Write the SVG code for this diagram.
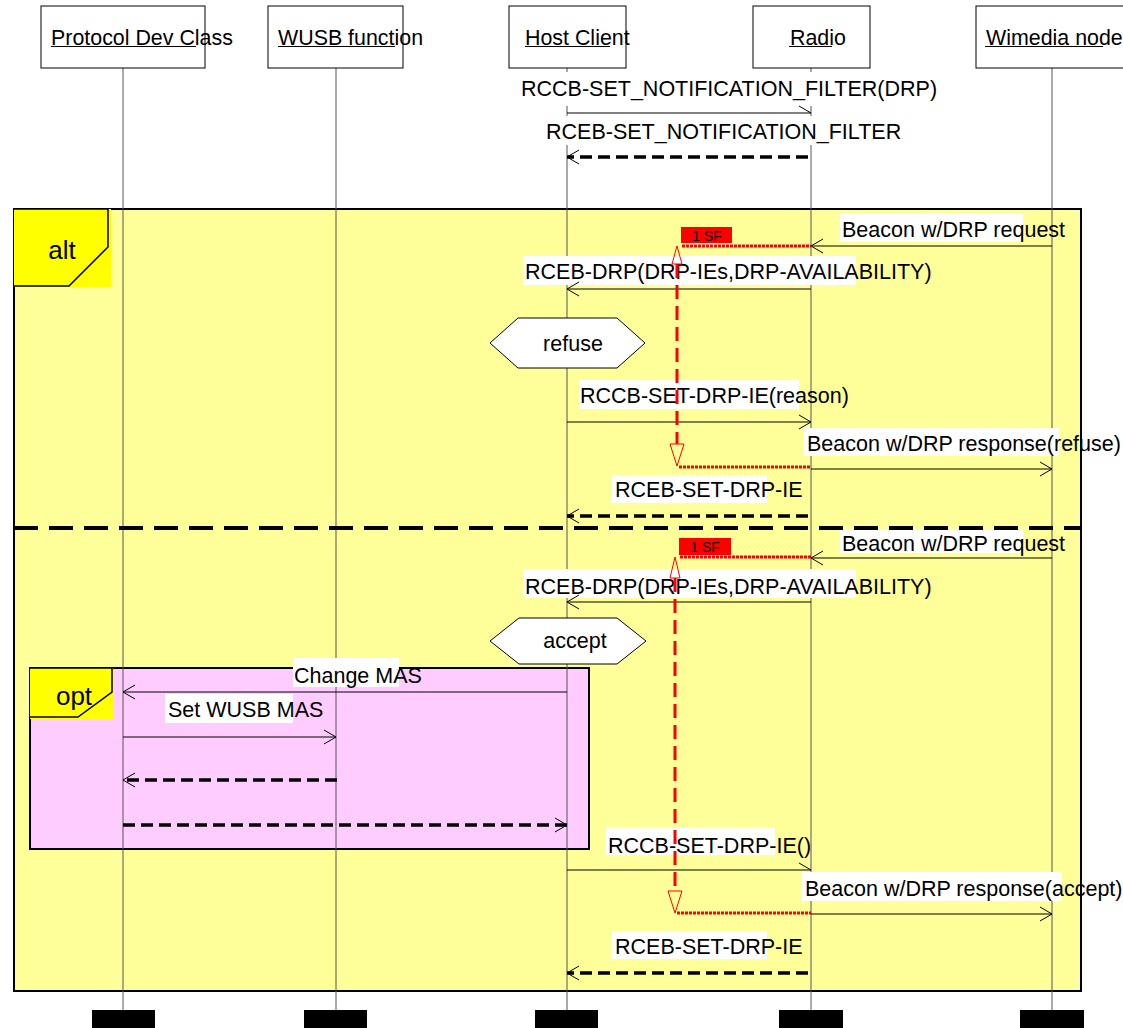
<svg xmlns="http://www.w3.org/2000/svg" width="1123" height="1028" viewBox="0 0 1123 1028">
<style>
text{font-family:"Liberation Sans",Arial,sans-serif;fill:#000}
.lbl{font-size:21.5px}
.hdr{font-size:21.4px}
.box{fill:#fff;stroke:#000;stroke-width:1}
.life{stroke:#555;stroke-width:1}
.bg{fill:#fff}
.msg{stroke:#000;stroke-width:1;fill:none}
.ret{stroke:#000;stroke-width:3.5;stroke-dasharray:12 6;fill:none}
.rdash{stroke:#f00;stroke-width:3;stroke-dasharray:14 7;fill:none}
.rdot{stroke:#f00;stroke-width:3;stroke-dasharray:3 1;fill:none}
.rtri{fill:none;stroke:#f00;stroke-width:1}
.bar{fill:#000}
.sf{font-size:14px}
</style>
<defs>
<marker id="ah" markerUnits="userSpaceOnUse" markerWidth="14" markerHeight="16" viewBox="0 0 14 16" refX="13" refY="8" orient="auto"><path d="M1,1 L13,8 L1,15" fill="none" stroke="#000" stroke-width="1"/></marker>
<marker id="ahh" markerUnits="userSpaceOnUse" markerWidth="14" markerHeight="16" viewBox="0 0 14 16" refX="13" refY="8" orient="auto"><path d="M1,1 L13,8" fill="none" stroke="#000" stroke-width="1"/></marker>
</defs>

<g id="frame-alt">
<rect x="14" y="209" width="1067" height="782" fill="#ffff99" stroke="#000" stroke-width="2"/>
<rect x="14" y="209" width="97" height="78" fill="#ffff00"/>
<path d="M14,209 L108,209 L108,247 L69,286 L14,286" fill="none" stroke="#000" stroke-width="1.5"/>
<text x="62" y="259" font-size="26" text-anchor="middle">alt</text>
</g>

<g id="frame-opt">
<rect x="30" y="668" width="559" height="181" fill="#ffccff" stroke="#000" stroke-width="2"/>
<rect x="30" y="668" width="83" height="51" fill="#ffff00"/>
<path d="M30,668 L112,668 L112,692 L78,717 L30,717" fill="none" stroke="#000" stroke-width="1.5"/>
<text x="74" y="705" font-size="26" text-anchor="middle">opt</text>
</g>

<g id="lifelines">
<line class="life" x1="123" y1="68" x2="123" y2="1010"/>
<line class="life" x1="336" y1="68" x2="336" y2="1010"/>
<line class="life" x1="567" y1="68" x2="567" y2="1010"/>
<line class="life" x1="811" y1="68" x2="811" y2="1010"/>
<line class="life" x1="1052" y1="68" x2="1052" y2="1010"/>
</g>

<g id="node-protocol">
<rect class="box" x="41" y="6" width="164" height="62"/>
<text class="hdr" x="51" y="45">Protocol Dev Class</text>
<line x1="51" y1="46.5" x2="196" y2="46.5" stroke="#000" stroke-width="1"/>
<rect class="bar" x="92" y="1010" width="63" height="20"/>
</g>
<g id="node-wusb">
<rect class="box" x="268" y="6" width="135" height="62"/>
<text class="hdr" x="278" y="45">WUSB function</text>
<line x1="278" y1="46.5" x2="395" y2="46.5" stroke="#000" stroke-width="1"/>
<rect class="bar" x="304" y="1010" width="63" height="20"/>
</g>
<g id="node-host">
<rect class="box" x="509" y="6" width="117" height="62"/>
<text class="hdr" x="525" y="45">Host Client</text>
<line x1="525" y1="46.5" x2="610" y2="46.5" stroke="#000" stroke-width="1"/>
<rect class="bar" x="535" y="1010" width="63" height="20"/>
</g>
<g id="node-radio">
<rect class="box" x="753" y="6" width="117" height="62"/>
<text class="hdr" x="790" y="45">Radio</text>
<line x1="789" y1="46.5" x2="832" y2="46.5" stroke="#000" stroke-width="1"/>
<rect class="bar" x="779" y="1010" width="64" height="20"/>
</g>
<g id="node-wimedia">
<rect class="box" x="976" y="6" width="152" height="62"/>
<text class="hdr" x="986" y="45">Wimedia node</text>
<line x1="985" y1="46.5" x2="1103" y2="46.5" stroke="#000" stroke-width="1"/>
<rect class="bar" x="1020" y="1010" width="64" height="20"/>
</g>

<g id="node-refuse">
<polygon points="490,343 518,318 617,318 645,343 617,368 518,368" fill="#fff" stroke="#000" stroke-width="1"/>
<text class="lbl" x="573" y="351" text-anchor="middle">refuse</text>
</g>
<g id="node-accept">
<polygon points="490,641 519,618 617,618 646,641 617,664 519,664" fill="#fff" stroke="#000" stroke-width="1"/>
<text class="lbl" x="575" y="648" text-anchor="middle">accept</text>
</g>

<g id="label-bgs">
<rect class="bg" x="519" y="72" width="333" height="34"/>
<rect class="bg" x="544" y="116" width="285" height="29"/>
<rect class="bg" x="840" y="213" width="183" height="29"/>
<rect class="bg" x="523" y="256" width="333" height="29"/>
<rect class="bg" x="579" y="380" width="220" height="29"/>
<rect class="bg" x="804" y="428" width="255" height="28"/>
<rect class="bg" x="612" y="475" width="155" height="28"/>
<rect class="bg" x="840" y="530" width="183" height="23"/>
<rect class="bg" x="523" y="569" width="333" height="29"/>
<rect class="bg" x="293" y="658" width="106" height="29"/>
<rect class="bg" x="165" y="694" width="128" height="29"/>
<rect class="bg" x="606" y="827" width="169" height="28"/>
<rect class="bg" x="802" y="872" width="260" height="29"/>
<rect class="bg" x="612" y="931" width="155" height="28"/>
</g>

<line x1="14" y1="528" x2="1081" y2="528" stroke="#000" stroke-width="4" stroke-dasharray="24 11"/>

<g id="labels">
<text class="lbl" x="521" y="96">RCCB-SET_NOTIFICATION_FILTER(DRP)</text>
<text class="lbl" x="546" y="139">RCEB-SET_NOTIFICATION_FILTER</text>
<text class="lbl" x="842" y="237">Beacon w/DRP request</text>
<text class="lbl" x="525" y="279">RCEB-DRP(DRP-IEs,DRP-AVAILABILITY)</text>
<text class="lbl" x="580" y="403">RCCB-SET-DRP-IE(reason)</text>
<text class="lbl" x="807" y="451">Beacon w/DRP response(refuse)</text>
<text class="lbl" x="615" y="497">RCEB-SET-DRP-IE</text>
<text class="lbl" x="842" y="551">Beacon w/DRP request</text>
<text class="lbl" x="525" y="594">RCEB-DRP(DRP-IEs,DRP-AVAILABILITY)</text>
<text class="lbl" x="294" y="683">Change MAS</text>
<text class="lbl" x="168" y="717">Set WUSB MAS</text>
<text class="lbl" x="608" y="853">RCCB-SET-DRP-IE()</text>
<text class="lbl" x="805" y="896">Beacon w/DRP response(accept)</text>
<text class="lbl" x="615" y="954">RCEB-SET-DRP-IE</text>
</g>

<g id="connectors">
<line class="msg" x1="567" y1="113" x2="811" y2="113" marker-end="url(#ahh)"/>
<line class="ret" x1="808" y1="157" x2="567" y2="157" marker-end="url(#ah)"/>
<line class="msg" x1="1052" y1="246" x2="811" y2="246" marker-end="url(#ah)"/>
<line class="msg" x1="811" y1="289" x2="567" y2="289" marker-end="url(#ah)"/>
<line class="msg" x1="567" y1="422" x2="811" y2="422" marker-end="url(#ah)"/>
<line class="msg" x1="811" y1="469" x2="1052" y2="469" marker-end="url(#ah)"/>
<line class="ret" x1="808" y1="516" x2="567" y2="516" marker-end="url(#ah)"/>
<line class="msg" x1="1052" y1="558" x2="811" y2="558" marker-end="url(#ah)"/>
<line class="msg" x1="811" y1="602" x2="567" y2="602" marker-end="url(#ah)"/>
<line class="msg" x1="567" y1="692" x2="123" y2="692" marker-end="url(#ah)"/>
<line class="msg" x1="123" y1="737" x2="336" y2="737" marker-end="url(#ah)"/>
<line class="ret" x1="337" y1="780" x2="123" y2="780" marker-end="url(#ah)"/>
<line class="ret" x1="123" y1="825" x2="567" y2="825" marker-end="url(#ah)"/>
<line class="msg" x1="567" y1="870" x2="811" y2="870" marker-end="url(#ahh)"/>
<line class="msg" x1="811" y1="914" x2="1052" y2="914" marker-end="url(#ah)"/>
<line class="ret" x1="808" y1="973" x2="567" y2="973" marker-end="url(#ah)"/>
</g>

<g id="timing-1">
<rect x="681" y="227" width="51" height="16" fill="#f00"/>
<text class="sf" x="707" y="241" text-anchor="middle">1 SF</text>
<line class="rdot" x1="682" y1="246" x2="811" y2="246"/>
<line class="rdash" x1="677" y1="264" x2="677" y2="444"/>
<polygon class="rtri" points="677,246 672,264 682,264"/>
<polygon class="rtri" points="670,444 684,444 677,466"/>
<line class="rdot" x1="679" y1="467" x2="811" y2="467"/>
</g>
<g id="timing-2">
<rect x="679" y="538" width="52" height="17" fill="#f00"/>
<text class="sf" x="705" y="552" text-anchor="middle">1 SF</text>
<line class="rdot" x1="680" y1="557" x2="811" y2="557"/>
<line class="rdash" x1="675" y1="578" x2="675" y2="891"/>
<polygon class="rtri" points="675,557 670,578 680,578"/>
<polygon class="rtri" points="668,891 682,891 675,913"/>
<line class="rdot" x1="677" y1="913" x2="811" y2="913"/>
</g>
</svg>
